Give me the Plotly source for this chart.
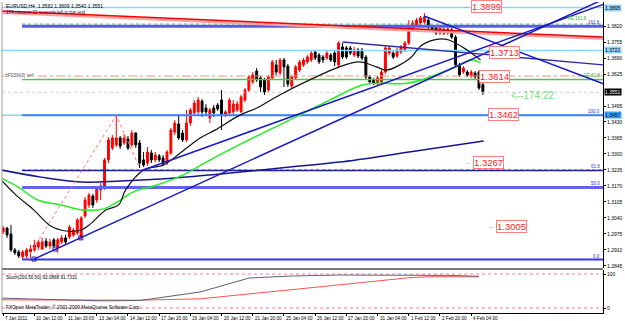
import plotly.graph_objects as go

# ---------------- data (EURUSD H4) ----------------
opens = [1.2983, 1.2999, 1.2975, 1.2910, 1.2902, 1.2882, 1.2886, 1.2902, 1.2910, 1.2922,
         1.2914, 1.2946, 1.2926, 1.2951, 1.2922, 1.2942, 1.2959, 1.2963, 1.2971, 1.2979,
         1.2963, 1.3048, 1.3093, 1.3129, 1.3113, 1.3154, 1.3162, 1.3276, 1.3324, 1.3337,
         1.3365, 1.3345, 1.3361, 1.3337, 1.3385, 1.3345, 1.3276, 1.3263, 1.3304, 1.3276,
         1.3292, 1.3284, 1.3263, 1.3304, 1.3389, 1.3422, 1.3385, 1.3357, 1.3426, 1.3467,
         1.3471, 1.3515, 1.3487, 1.3446, 1.3487, 1.3499, 1.3519, 1.3458, 1.3467, 1.3471,
         1.3479, 1.3471, 1.3519, 1.3560, 1.3593, 1.3637, 1.3609, 1.3601, 1.3560, 1.3609,
         1.3662, 1.3629, 1.3682, 1.3657, 1.3576, 1.3609, 1.3641, 1.3662, 1.3674, 1.3682,
         1.3714, 1.3702, 1.3694, 1.3690, 1.3702, 1.3710, 1.3662, 1.3735, 1.3731, 1.3731,
         1.3702, 1.3723, 1.3723, 1.3694, 1.3613, 1.3601, 1.3588, 1.3593, 1.3633, 1.3710,
         1.3710, 1.3698, 1.3714, 1.3723, 1.3751, 1.3804, 1.3824, 1.3832, 1.3836, 1.3844,
         1.3816, 1.3812, 1.3792, 1.3804, 1.3792, 1.3804, 1.3775, 1.3662, 1.3633, 1.3633,
         1.3617, 1.3629, 1.3633, 1.3582]
highs = [1.3007, 1.3003, 1.3012, 1.2918, 1.2910, 1.2910, 1.2918, 1.2930, 1.2951, 1.2951,
         1.2959, 1.2959, 1.2955, 1.2959, 1.2959, 1.2971, 1.2971, 1.3012, 1.2999, 1.3040,
         1.3048, 1.3125, 1.3142, 1.3137, 1.3170, 1.3182, 1.3284, 1.3369, 1.3377, 1.3457,
         1.3373, 1.3381, 1.3373, 1.3397, 1.3389, 1.3357, 1.3308, 1.3328, 1.3316, 1.3308,
         1.3300, 1.3296, 1.3316, 1.3406, 1.3438, 1.3458, 1.3397, 1.3479, 1.3487, 1.3519,
         1.3532, 1.3523, 1.3503, 1.3487, 1.3499, 1.3507, 1.3560, 1.3479, 1.3528, 1.3519,
         1.3515, 1.3540, 1.3568, 1.3621, 1.3633, 1.3649, 1.3617, 1.3609, 1.3621, 1.3682,
         1.3682, 1.3690, 1.3690, 1.3666, 1.3621, 1.3662, 1.3682, 1.3690, 1.3702, 1.3718,
         1.3723, 1.3710, 1.3702, 1.3718, 1.3710, 1.3718, 1.3759, 1.3751, 1.3739, 1.3739,
         1.3735, 1.3731, 1.3731, 1.3702, 1.3621, 1.3609, 1.3617, 1.3641, 1.3739, 1.3739,
         1.3718, 1.3731, 1.3743, 1.3759, 1.3844, 1.3844, 1.3853, 1.3861, 1.3873, 1.3853,
         1.3824, 1.3820, 1.3820, 1.3812, 1.3816, 1.3812, 1.3783, 1.3670, 1.3657, 1.3641,
         1.3641, 1.3637, 1.3641, 1.3609]
lows = [1.2975, 1.2959, 1.2902, 1.2890, 1.2877, 1.2873, 1.2871, 1.2877, 1.2902, 1.2910,
        1.2910, 1.2918, 1.2914, 1.2918, 1.2898, 1.2934, 1.2930, 1.2955, 1.2963, 1.2971,
        1.2951, 1.3040, 1.3081, 1.3081, 1.3101, 1.3113, 1.3154, 1.3263, 1.3316, 1.3328,
        1.3320, 1.3337, 1.3316, 1.3328, 1.3324, 1.3243, 1.3247, 1.3251, 1.3263, 1.3267,
        1.3267, 1.3251, 1.3255, 1.3296, 1.3377, 1.3357, 1.3349, 1.3349, 1.3414, 1.3458,
        1.3462, 1.3450, 1.3458, 1.3426, 1.3450, 1.3475, 1.3397, 1.3450, 1.3458, 1.3462,
        1.3471, 1.3467, 1.3511, 1.3552, 1.3584, 1.3593, 1.3552, 1.3540, 1.3552, 1.3601,
        1.3621, 1.3621, 1.3572, 1.3572, 1.3568, 1.3601, 1.3633, 1.3654, 1.3666, 1.3674,
        1.3682, 1.3666, 1.3670, 1.3682, 1.3674, 1.3657, 1.3649, 1.3686, 1.3686, 1.3702,
        1.3694, 1.3690, 1.3682, 1.3601, 1.3584, 1.3580, 1.3580, 1.3584, 1.3625, 1.3702,
        1.3686, 1.3690, 1.3706, 1.3714, 1.3743, 1.3796, 1.3816, 1.3824, 1.3828, 1.3808,
        1.3796, 1.3783, 1.3783, 1.3783, 1.3783, 1.3767, 1.3654, 1.3613, 1.3625, 1.3613,
        1.3609, 1.3605, 1.3560, 1.3540]
closes = [1.2999, 1.2971, 1.2910, 1.2898, 1.2886, 1.2902, 1.2910, 1.2914, 1.2930, 1.2942,
          1.2942, 1.2926, 1.2942, 1.2926, 1.2951, 1.2959, 1.2942, 1.3003, 1.2991, 1.3032,
          1.3040, 1.3113, 1.3133, 1.3093, 1.3162, 1.3170, 1.3276, 1.3357, 1.3365, 1.3365,
          1.3332, 1.3365, 1.3324, 1.3385, 1.3337, 1.3263, 1.3255, 1.3308, 1.3276, 1.3296,
          1.3276, 1.3259, 1.3308, 1.3397, 1.3426, 1.3365, 1.3357, 1.3426, 1.3479, 1.3507,
          1.3519, 1.3471, 1.3471, 1.3479, 1.3467, 1.3483, 1.3458, 1.3471, 1.3519, 1.3503,
          1.3503, 1.3532, 1.3560, 1.3613, 1.3621, 1.3601, 1.3572, 1.3552, 1.3613, 1.3674,
          1.3633, 1.3682, 1.3654, 1.3584, 1.3613, 1.3654, 1.3674, 1.3682, 1.3694, 1.3710,
          1.3690, 1.3674, 1.3682, 1.3710, 1.3682, 1.3674, 1.3751, 1.3694, 1.3694, 1.3710,
          1.3723, 1.3698, 1.3690, 1.3613, 1.3593, 1.3588, 1.3609, 1.3633, 1.3731, 1.3731,
          1.3694, 1.3723, 1.3735, 1.3751, 1.3816, 1.3832, 1.3844, 1.3853, 1.3857, 1.3816,
          1.3804, 1.3792, 1.3812, 1.3792, 1.3808, 1.3775, 1.3662, 1.3621, 1.3649, 1.3621,
          1.3633, 1.3613, 1.3568, 1.3551]
bars = list(range(len(opens)))

# moving averages (bar index, price)
ma_black_x = [-0.5, 3.3, 7.9, 12.2, 16.1, 19.9, 22.4, 26.3, 29.6, 31.4, 36.0, 41.1, 45.4, 50.5,
              54.3, 60.7, 65.0, 70.9, 78.6, 86.2, 91.3, 95.7, 98.2, 104.1, 107.4, 111.7, 114.3, 118.9, 122.4]
ma_black_y = [1.3194, 1.3133, 1.3072, 1.3007, 1.2987, 1.2991, 1.3016, 1.3072, 1.3093, 1.3154, 1.3235,
              1.3255, 1.3304, 1.3365, 1.3397, 1.3458, 1.3487, 1.3540, 1.3601, 1.3654, 1.3674, 1.3654,
              1.3641, 1.3686, 1.3743, 1.3767, 1.3763, 1.3723, 1.3682]
ma_green_x = [-0.5, 3.8, 8.9, 14.8, 20.7, 25.8, 29.3, 33.4, 39.5, 46.2, 53.1, 61.5, 76.0, 83.7,
              92.1, 96.4, 104.1, 116.1, 119.9, 122.4]
ma_green_y = [1.3202, 1.3166, 1.3113, 1.3093, 1.3072, 1.3077, 1.3105, 1.3146, 1.3174, 1.3215,
              1.3276, 1.3345, 1.3458, 1.3519, 1.3580, 1.3588, 1.3588, 1.3654, 1.3682, 1.3670]
ma_navy_x = [-0.5, 9.7, 19.9, 30.1, 40.3, 53.1, 76.0, 86.2, 104.1, 123.2]
ma_navy_y = [1.3235, 1.3206, 1.3186, 1.3190, 1.3198, 1.3215, 1.3251, 1.3267, 1.3308, 1.3353]

# zigzag
zz_x = [6, 29, 35]
zz_y = [1.2871, 1.3457, 1.3243]

# trend lines (bar, price)
tl_lower_x, tl_lower_y = [7.9, 154.1], [1.2873, 1.3930]
tl_upper_x, tl_upper_y = [35.2, 154.1], [1.3231, 1.3909]
tl_steep_x, tl_steep_y = [107.9, 154.1], [1.3861, 1.3584]
tl_flat_x, tl_flat_y = [87.0, 154.1], [1.3755, 1.3662]
red_line_x, red_line_y = [-0.5, 154.1], [1.3881, 1.3775]
anchor_x = [7.9, 13.3, 19.9]
anchor_y = [1.2873, 1.2914, 1.2959]

# fibonacci retracement
fib_low, fib_high = 1.2871, 1.3457
fib_levels = [0.0, 0.5, 0.618, 1.0, 1.618]
fib_labels = ["0.0", "50.0", "61.8", "100.0", "161.8"]

# horizontal levels
cyan_levels = [1.3895, 1.3721, 1.3457]
fe_1618, fe_618 = 1.3828, 1.3603
pink_level = 1.3617
bid = 1.3551

# price text objects
price_labels = ["1.3899", "1.3713", "1.3614", "1.3462", "1.3267", "1.3005"]
price_label_x = [119.9, 124.5, 121.9, 124.2, 120.4, 126.3]
timer_text = "<--174:22"

# stochastic (bar, value)
st_main_x = [-0.5, 12, 25, 35, 39.5, 50.5, 63, 73.5, 86, 104, 114, 122]
st_main_y = [29, 25, 21, 22, 29, 47, 88, 94, 97, 97, 96, 93.0868]
st_sig_x = [-0.5, 25, 35, 47, 50.5, 81, 104, 109, 122]
st_sig_y = [24, 23, 23, 26, 27, 62, 89, 92, 91.7331]

# axis labels
price_ticks = [1.2845, 1.2910, 1.2975, 1.3040, 1.3105, 1.3170, 1.3235, 1.3300, 1.3365,
               1.3430, 1.3495, 1.3625, 1.3690, 1.3755, 1.3820]
time_labels = ["7 Jan 2011", "10 Jan 12:00", "11 Jan 20:00", "13 Jan 04:00", "14 Jan 12:00",
               "17 Jan 20:00", "19 Jan 04:00", "20 Jan 12:00", "21 Jan 20:00", "25 Jan 04:00",
               "26 Jan 12:00", "27 Jan 20:00", "31 Jan 04:00", "1 Feb 12:00", "2 Feb 20:00",
               "4 Feb 04:00"]
time_label_bars = [8 * i for i in range(len(time_labels))]

# ---------------- figure ----------------
XR = [-0.3, 153.8]
FIB_X0 = 4.85
FONT = "Liberation Sans"

fig = go.Figure()


def line(x, y, color, width=1, dash="solid", xa="x", ya="y", shape="linear"):
    fig.add_trace(go.Scatter(x=x, y=y, mode="lines", xaxis=xa, yaxis=ya, hoverinfo="skip",
                             line=dict(color=color, width=width, dash=dash, shape=shape),
                             showlegend=False))


# horizontal levels
line(XR, [cyan_levels[0]] * 2, "#8fd4f8", 1.5)
line(XR, [cyan_levels[1]] * 2, "#8fd4f8", 1.5)
line(XR, [cyan_levels[2]] * 2, "#8fd4f8", 1.5)
line(XR, [pink_level] * 2, "#ff8a8a", 1, "dashdot")
line([FIB_X0, XR[1]], [fe_618] * 2, "#44cc44", 1.5)
line([FIB_X0, XR[1]], [fe_1618] * 2, "#44cc44", 1, "dot")
line(XR, [bid] * 2, "#c8c8c8", 1, "dot")

fib_colors = ["#3535f0", "#6464f4", "#1e1e9a", "#3f7fff", "#5a5af0"]
fib_widths = [2, 3, 1.5, 2, 3]
for lv, c, w in zip(fib_levels, fib_colors, fib_widths):
    p = fib_low + lv * (fib_high - fib_low)
    if lv == 0.618:
        line([FIB_X0, XR[1]], [p + 0.0004] * 2, "#a8a8a8", 1, "dot")
    line([FIB_X0, XR[1]], [p] * 2, c, w)

# red sloped line with pink shadow
line(red_line_x, [v - 0.0007 for v in red_line_y], "#ffa0a0", 2.5)
line(red_line_x, red_line_y, "#ee0000", 1.5)

# moving averages
line(ma_navy_x, ma_navy_y, "#16168c", 1.5, shape="spline")
line(ma_green_x, ma_green_y, "#22ee22", 1.5, shape="spline")
line(ma_black_x, ma_black_y, "#111111", 1.2, shape="spline")

# trend lines
line(tl_lower_x, tl_lower_y, "#1c1cc0", 1.5)
line(tl_upper_x, tl_upper_y, "#1c1cc0", 1.5)
line(tl_steep_x, tl_steep_y, "#1c1cc0", 1.5)
line(tl_flat_x, tl_flat_y, "#2a2aa8", 1.3)
line(zz_x, zz_y, "#ff7070", 1, "dot")

fig.add_trace(go.Scatter(x=anchor_x, y=anchor_y, mode="markers", hoverinfo="skip", showlegend=False,
                         marker=dict(symbol="square-open", size=4, color="#1c1cc0", line=dict(width=1))))

# candles
fig.add_trace(go.Candlestick(
    x=bars, open=opens, high=highs, low=lows, close=closes, hoverinfo="skip",
    increasing=dict(line=dict(color="#ff0000", width=1), fillcolor="#ff0000"),
    decreasing=dict(line=dict(color="#000000", width=1), fillcolor="#000000"),
    whiskerwidth=0, showlegend=False))

# stochastic
line(XR, [100, 100], "#ff7a9a", 1, "dot", "x2", "y2")
line(XR, [0, 0], "#ff7a9a", 1, "dot", "x2", "y2")
line(st_sig_x, st_sig_y, "#ff5050", 1, xa="x2", ya="y2")
line(st_main_x, st_main_y, "#606070", 1, xa="x2", ya="y2")

ann = []
for txt, bx in zip(price_labels, price_label_x):
    ann.append(dict(x=bx, y=float(txt), xref="x", yref="y", text=txt, showarrow=False,
                    xanchor="left", yanchor="middle", font=dict(family=FONT, size=9.5, color="#ff2424"),
                    bgcolor="white", bordercolor="#ff8080", borderwidth=1, borderpad=0))
    ann.append(dict(x=bx, y=float(txt), xref="x", yref="y", text="-", showarrow=False,
                    xanchor="right", yanchor="middle", xshift=-1,
                    font=dict(family=FONT, size=8, color="#ff6060")))
ann.append(dict(x=129.6, y=bid - 0.0015, xref="x", yref="y", text=timer_text, showarrow=False,
                xanchor="left", yanchor="middle", font=dict(family=FONT, size=10, color="#77dd77")))

for lv, lab in zip(fib_levels, fib_labels):
    p = fib_low + lv * (fib_high - fib_low)
    ann.append(dict(x=1, y=p, xref="paper", yref="y", text=lab, showarrow=False, xanchor="right",
                    yanchor="bottom", xshift=-1, yshift=-1, font=dict(family=FONT, size=4.5, color="#3030e0")))
ann.append(dict(x=1, y=fe_1618, xref="paper", yref="y", text="FE 161.8", showarrow=False, xanchor="right",
                yanchor="bottom", xshift=-14, yshift=1, font=dict(family=FONT, size=4.5, color="#22bb22")))
ann.append(dict(x=1, y=fe_618, xref="paper", yref="y", text="FE 61.8", showarrow=False, xanchor="right",
                yanchor="bottom", xshift=-1, yshift=-1, font=dict(family=FONT, size=4.5, color="#22bb22")))

# highlighted axis price labels
for val, bg, fc in [(cyan_levels[0], "#8fd4f8", "#000000"), (cyan_levels[1], "#8fd4f8", "#000000"),
                    (cyan_levels[2], "#3fa0ff", "#000000"), (bid, "#000000", "#ffffff")]:
    ann.append(dict(x=1, y=val, xref="paper", yref="y", text="%.4f" % val, showarrow=False,
                    xanchor="left", yanchor="middle", xshift=1, bgcolor=bg, borderpad=0,
                    font=dict(family=FONT, size=5, color=fc)))

# texts
ann.append(dict(x=0, y=1, xref="paper", yref="paper", xanchor="left", yanchor="top", xshift=2, yshift=1,
                text="EURUSD,H4  1.3582 1.3609 1.3540 1.3551", showarrow=False,
                font=dict(family=FONT, size=5, color="#000000")))
ann.append(dict(x=0, y=1, xref="paper", yref="paper", xanchor="left", yanchor="top", xshift=2, yshift=-6,
                text="174 minutes 22 seconds left to bar end", showarrow=False,
                font=dict(family=FONT, size=4.6, color="#1a1a60")))
ann.append(dict(x=0, y=pink_level, xref="paper", yref="y", xanchor="left", yanchor="middle", xshift=2,
                text="±FSSN(0) sell", showarrow=False, font=dict(family=FONT, size=4.6, color="#505050"),
                bgcolor="white", borderpad=0))
ann.append(dict(x=0, y=0.1383, xref="paper", yref="paper", xanchor="left", yanchor="top", xshift=2, yshift=-3,
                text="Stoch(200,50,50) 93.0868 91.7331", showarrow=False,
                font=dict(family=FONT, size=4.6, color="#000000")))
ann.append(dict(x=0, y=0, xref="paper", yref="paper", xanchor="left", yanchor="bottom", xshift=2, yshift=1,
                text="FXOpen MetaTrader, © 2001-2009 MetaQuotes Software Corp.", showarrow=False,
                font=dict(family=FONT, size=4.8, color="#000000")))
for lab, b in zip(time_labels, time_label_bars):
    ann.append(dict(x=b, y=0, xref="x2", yref="paper", xanchor="left", yanchor="top", yshift=-1, xshift=0,
                    text=lab, showarrow=False, font=dict(family=FONT, size=4.6, color="#000000")))

H = 321
T, B = 2, 8
PH = H - T - B
main_dom = [(313 - 268) / PH, 1]
sub_dom = [0, (313 - 270) / PH]

fig.update_layout(
    width=625, height=321, margin=dict(l=2, r=19, t=T, b=B),
    paper_bgcolor="white", plot_bgcolor="white", showlegend=False,
    annotations=ann,
    xaxis=dict(domain=[0, 1], range=XR, anchor="y", showticklabels=False, showgrid=False,
               zeroline=False, rangeslider=dict(visible=False), ticks=""),
    xaxis2=dict(domain=[0, 1], range=XR, anchor="y2", matches="x", showticklabels=False, showgrid=False,
                zeroline=False, showline=True, linecolor="#000000", linewidth=1, ticks="outside",
                ticklen=2, tickcolor="#000000", tickvals=time_label_bars),
    yaxis=dict(domain=main_dom, range=[1.28367, 1.39176], side="right", anchor="x", showgrid=False,
               zeroline=False, showline=True, linecolor="#000000", linewidth=1, ticks="outside",
               ticklen=2, tickcolor="#000000", tickvals=price_ticks, tickformat=".4f",
               tickfont=dict(family=FONT, size=5, color="#000000")),
    yaxis2=dict(domain=sub_dom, range=[-14.7, 111.8], side="right", anchor="x2", showgrid=False,
                zeroline=False, showline=True, linecolor="#000000", linewidth=1, ticks="outside",
                ticklen=2, tickcolor="#000000", tickvals=[0, 100], ticktext=["0", "100"],
                tickfont=dict(family=FONT, size=5, color="#000000")),
    shapes=[
        dict(type="rect", xref="paper", yref="paper", x0=0, x1=1, y0=sub_dom[1], y1=main_dom[0],
             fillcolor="#7a7a7a", line=dict(width=0), layer="above"),
        dict(type="line", xref="paper", yref="paper", x0=0, x1=0, y0=0, y1=1,
             line=dict(color="#a0a0a0", width=1)),
    ],
)

fig.write_html("out.html")
